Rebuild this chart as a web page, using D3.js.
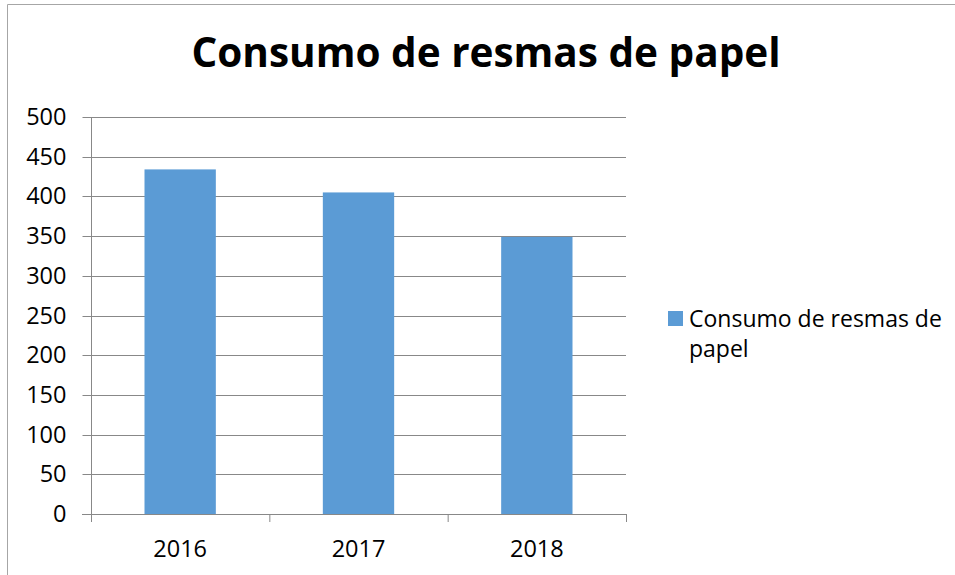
<!DOCTYPE html>
<html><head><meta charset="utf-8">
<script src="https://cdn.jsdelivr.net/npm/d3@7"></script>
<style>body{margin:0;background:#fff;} svg{display:block;}</style>
</head><body>
<svg id="chart" width="955" height="575"></svg>
<script>
const title = "Consumo de resmas de papel";
const categories = ["2016", "2017", "2018"];
const values = [434, 405, 349];
const yTicks = [0, 50, 100, 150, 200, 250, 300, 350, 400, 450, 500];
const seriesName = "Consumo de resmas de papel";
const legendLines = ["Consumo de resmas de", "papel"];

const svg = d3.select("#chart");
const font = "'Open Sans', 'Noto Sans', sans-serif";
const gridColor = "#888888";
const barColor = "#5B9BD5";

// outer frame
svg.append("path").attr("d", "M7.5,575 V4.5 H955").attr("fill", "none").attr("stroke", "#a6a6a6").attr("stroke-width", 1);

const m = {left: 91, right: 626, top: 117, bottom: 514};
const x = d3.scaleBand().domain(categories).range([m.left, m.right]).paddingInner(0.6).paddingOuter(0.3);
const xb = d3.scaleBand().domain(categories).range([m.left, m.right]);
const y = d3.scaleLinear().domain([0, 500]).range([m.bottom, m.top]);

// gridlines
svg.append("g").selectAll("line").data(yTicks.filter(d => d > 0)).join("line")
  .attr("x1", m.left).attr("x2", m.right)
  .attr("y1", d => Math.round(y(d)) + 0.5).attr("y2", d => Math.round(y(d)) + 0.5)
  .attr("stroke", gridColor).attr("stroke-width", 1);

// bars
svg.append("g").selectAll("rect").data(values).join("rect")
  .attr("x", (d, i) => x(categories[i]))
  .attr("width", x.bandwidth())
  .attr("y", d => y(d))
  .attr("height", d => y(0) - y(d))
  .attr("fill", barColor);

// y axis
const yAxis = d3.axisLeft(y).tickValues(yTicks).tickSize(9).tickPadding(16).tickFormat(d3.format("d"));
const gy = svg.append("g").attr("transform", `translate(${m.left + 0.5},0)`).call(yAxis);
gy.select(".domain").attr("stroke", gridColor).attr("d", `M0,${m.top}V${m.bottom + 0.5}`);
gy.selectAll(".tick line").attr("stroke", gridColor);
gy.selectAll(".tick text").attr("fill", "#000").style("font-family", font).style("font-size", "23.5px");
gy.selectAll(".tick").attr("transform", d => `translate(0,${Math.round(y(d)) + 0.5})`);

// x axis
const xTickPos = categories.map(c => xb(c)).concat([m.right]);
const gx = svg.append("g");
gx.append("line").attr("x1", m.left - 9).attr("x2", m.right).attr("y1", m.bottom + 0.5).attr("y2", m.bottom + 0.5).attr("stroke", gridColor);
gx.selectAll("line.tk").data(xTickPos).join("line").attr("class", "tk")
  .attr("x1", d => d + 0.5).attr("x2", d => d + 0.5)
  .attr("y1", m.bottom).attr("y2", m.bottom + 8).attr("stroke", gridColor);
gx.selectAll("text").data(categories).join("text")
  .attr("x", d => xb(d) + xb.bandwidth() / 2).attr("y", 557)
  .attr("text-anchor", "middle").style("font-family", font).style("font-size", "23.5px").attr("fill", "#000")
  .text(d => d);

// title
svg.append("text").attr("x", 486).attr("y", 67).attr("text-anchor", "middle")
  .style("font-family", font).style("font-weight", "bold").style("font-size", "40.5px").attr("fill", "#000")
  .text(title);

// legend
const lg = svg.append("g").attr("aria-label", seriesName);
lg.append("rect").attr("x", 668).attr("y", 311).attr("width", 15).attr("height", 15).attr("fill", barColor);
lg.selectAll("text").data(legendLines).join("text")
  .attr("x", 689).attr("y", (d, i) => 327 + i * 30)
  .style("font-family", font).style("font-size", "23px").attr("fill", "#000")
  .text(d => d);
</script>
</body></html>
